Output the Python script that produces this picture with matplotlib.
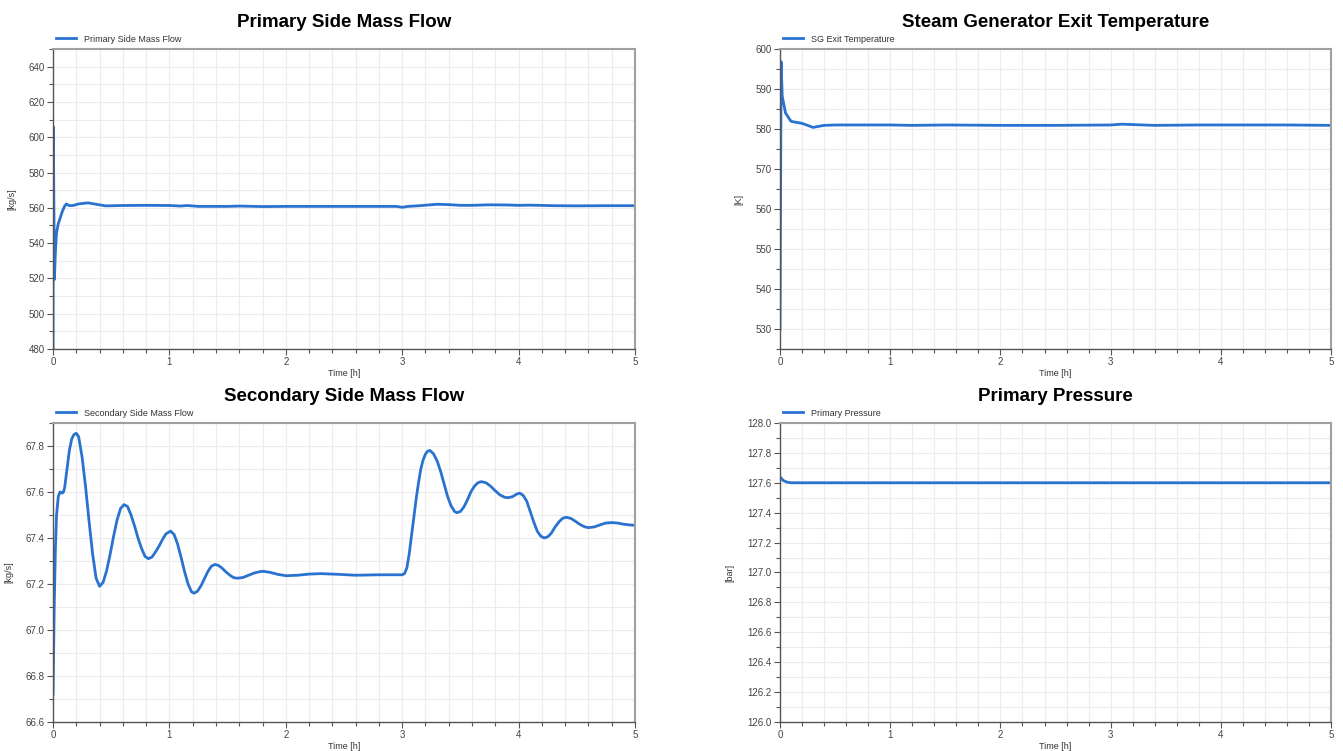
import matplotlib.pyplot as plt
from matplotlib.ticker import MultipleLocator

plt.rcParams['font.family'] = ['Liberation Sans', 'DejaVu Sans']

# Primary side mass flow [kg/s]
t_prim = [0.0, 0.001, 0.004, 0.012, 0.02, 0.03, 0.045, 0.06, 0.08, 0.1, 0.115,
          0.14, 0.17, 0.22, 0.3, 0.37, 0.45, 0.6, 0.8, 1.0, 1.1, 1.15, 1.25,
          1.5, 1.6, 1.8, 2.0, 2.5, 2.95, 3.0, 3.05, 3.15, 3.3, 3.4, 3.5, 3.6,
          3.75, 3.9, 4.0, 4.1, 4.3, 4.5, 4.75, 5.0]
m_prim = [470.0, 606.0, 590.0, 519.5, 535.0, 546.0, 551.0, 554.0, 558.0, 561.0, 562.2,
          561.2, 561.3, 562.2, 562.8, 562.0, 561.1, 561.3, 561.4, 561.3, 561.0, 561.3, 560.8,
          560.8, 561.0, 560.7, 560.8, 560.8, 560.8, 560.3, 560.8, 561.2, 562.0, 561.8, 561.4, 561.4,
          561.7, 561.6, 561.4, 561.5, 561.2, 561.1, 561.2, 561.2]

# Steam generator exit temperature [K]
t_sg = [0.0, 0.01, 0.02, 0.05, 0.1, 0.2, 0.3, 0.4, 0.5, 1.0, 1.2, 1.5, 2.0,
        2.5, 3.0, 3.1, 3.4, 3.8, 4.2, 4.6, 5.0]
T_sg = [530.0, 596.8, 588.2, 584.0, 581.9, 581.4, 580.4, 580.9, 581.0, 581.0, 580.9, 581.0, 580.9,
        580.9, 581.0, 581.2, 580.9, 581.0, 581.0, 581.0, 580.9]

# Secondary side mass flow [kg/s]
t_sec = [0.0, 0.01, 0.02, 0.03, 0.045, 0.06, 0.08, 0.09, 0.1, 0.12, 0.14, 0.16, 0.18, 0.2,
         0.22, 0.25, 0.28, 0.31, 0.34, 0.37, 0.40, 0.43, 0.46, 0.49, 0.52, 0.55, 0.58, 0.61,
         0.64, 0.67, 0.70, 0.73, 0.76, 0.79, 0.82, 0.85, 0.88, 0.91, 0.94, 0.97, 1.01,
         1.04, 1.07, 1.10, 1.13, 1.16, 1.19, 1.21, 1.24, 1.27, 1.30, 1.33, 1.36, 1.39,
         1.42, 1.45, 1.48, 1.52, 1.55, 1.58, 1.63, 1.68, 1.73, 1.78, 1.81, 1.87, 1.93, 2.0,
         2.1, 2.2, 2.3, 2.45, 2.6, 2.8, 2.95, 3.0, 3.02, 3.04, 3.06, 3.08, 3.10, 3.12, 3.14,
         3.16, 3.18, 3.20, 3.22, 3.24, 3.27, 3.30, 3.33, 3.36, 3.39, 3.42, 3.45, 3.47,
         3.50, 3.53, 3.56, 3.59, 3.62, 3.65, 3.68, 3.72, 3.76, 3.80, 3.84, 3.88, 3.91,
         3.95, 3.98, 4.01, 4.04, 4.07, 4.10, 4.13, 4.16, 4.19, 4.22, 4.25, 4.28, 4.31,
         4.35, 4.38, 4.41, 4.45, 4.49, 4.53, 4.57, 4.60, 4.65, 4.70, 4.75, 4.80, 4.85,
         4.90, 4.95, 5.0]
m_sec = [66.72, 67.10, 67.35, 67.50, 67.58, 67.60, 67.595, 67.60, 67.62, 67.70, 67.78, 67.83, 67.85, 67.855,
         67.84, 67.75, 67.62, 67.47, 67.33, 67.225, 67.19, 67.207, 67.257, 67.328, 67.407, 67.478, 67.528, 67.545,
         67.537, 67.50, 67.453, 67.40, 67.355, 67.32, 67.31, 67.317, 67.339, 67.364, 67.393, 67.418, 67.43,
         67.415, 67.374, 67.316, 67.254, 67.20, 67.166, 67.16, 67.168, 67.191, 67.222, 67.254, 67.277, 67.285,
         67.281, 67.27, 67.255, 67.238, 67.228, 67.225, 67.228, 67.238, 67.248, 67.254, 67.255, 67.25, 67.242, 67.236,
         67.238, 67.243, 67.245, 67.242, 67.238, 67.24, 67.24, 67.24, 67.245, 67.27, 67.33, 67.41, 67.49, 67.57, 67.64,
         67.70, 67.74, 67.765, 67.778, 67.78, 67.765, 67.735, 67.69, 67.635, 67.58, 67.54, 67.515, 67.51,
         67.515, 67.535, 67.565, 67.60, 67.625, 67.64, 67.645, 67.64, 67.625, 67.605, 67.587, 67.577, 67.575,
         67.58, 67.59, 67.595, 67.585, 67.56, 67.515, 67.47, 67.43, 67.408, 67.40, 67.405, 67.42, 67.445,
         67.472, 67.486, 67.49, 67.485, 67.472, 67.458, 67.448, 67.445, 67.448, 67.457, 67.465, 67.467, 67.465,
         67.46, 67.457, 67.455]

# Primary pressure [bar]
t_pres = [0.0, 0.01, 0.03, 0.06, 0.1, 0.2, 0.5, 1.0, 2.0, 3.0, 4.0, 5.0]
p_pres = [127.64, 127.63, 127.615, 127.605, 127.6, 127.6, 127.6, 127.6, 127.6, 127.6, 127.6, 127.6]

LINE = '#2a72d0'

panels = [
    ('Primary Side Mass Flow', 'Primary Side Mass Flow', '[kg/s]', t_prim, m_prim,
     (480, 650), 20, 10, '{x:.0f}', [0.0395, 0.5353, 0.4333, 0.3995]),
    ('Steam Generator Exit Temperature', 'SG Exit Temperature', '[K]', t_sg, T_sg,
     (525, 600), 10, 5, '{x:.0f}', [0.5808, 0.5353, 0.4103, 0.3995]),
    ('Secondary Side Mass Flow', 'Secondary Side Mass Flow', '[kg/s]', t_sec, m_sec,
     (66.6, 67.9), 0.2, 0.1, '{x:.1f}', [0.0395, 0.0386, 0.4333, 0.3982]),
    ('Primary Pressure', 'Primary Pressure', '[bar]', t_pres, p_pres,
     (126.0, 128.0), 0.2, 0.1, '{x:.1f}', [0.5808, 0.0386, 0.4103, 0.3982]),
]

fig = plt.figure(figsize=(13.43, 7.51), dpi=100)

for title, label, ylab, x, y, ylim, major, minor, fmt, rect in panels:
    ax = fig.add_axes(rect)
    ax.plot(x, y, color=LINE, lw=2, label=label, solid_joinstyle='round')
    ax.set_xlim(0, 5)
    ax.set_ylim(*ylim)
    ax.xaxis.set_major_locator(MultipleLocator(1))
    ax.xaxis.set_minor_locator(MultipleLocator(0.2))
    ax.yaxis.set_major_locator(MultipleLocator(major))
    ax.yaxis.set_minor_locator(MultipleLocator(minor))
    ax.yaxis.set_major_formatter(fmt)
    ax.grid(which='both', color='#ececec', lw=0.8)
    ax.set_axisbelow(True)
    ax.tick_params(which='both', direction='out', colors='#555555', labelcolor='#444444',
                   labelsize=7, width=0.8, pad=2)
    ax.tick_params(which='major', length=4)
    ax.tick_params(which='minor', length=3)
    for s in ('left', 'bottom'):
        ax.spines[s].set_color('#555555')
        ax.spines[s].set_linewidth(1.0)
    for s in ('top', 'right'):
        ax.spines[s].set_color('#a0a0a0')
        ax.spines[s].set_linewidth(1.5)
    ax.set_xlabel('Time [h]', fontsize=6.5, color='#333333', labelpad=1)
    ax.set_ylabel(ylab, fontsize=6.5, color='#333333', labelpad=9)
    ax.set_title(title, fontsize=13.5, fontweight='bold', pad=16)
    ax.legend(loc='lower left', bbox_to_anchor=(-0.005, 1.0), frameon=False, fontsize=6.5,
              handlelength=2.3, borderaxespad=0.2, labelcolor='#333333')

fig.savefig('out.png', dpi=100)
